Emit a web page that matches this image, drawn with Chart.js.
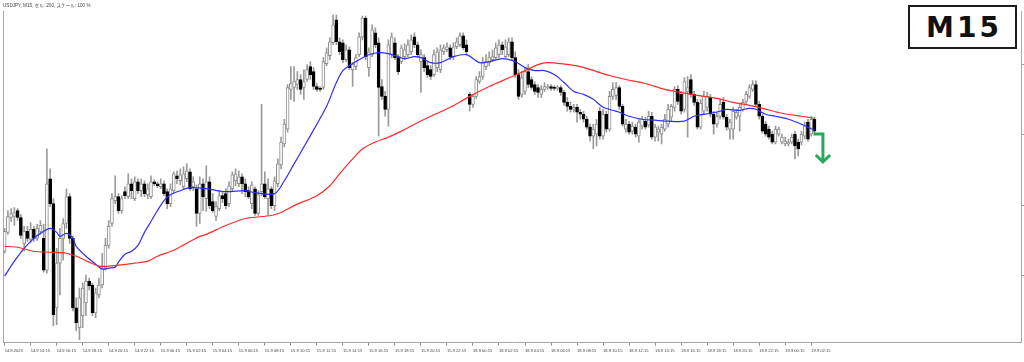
<!DOCTYPE html>
<html><head><meta charset="utf-8">
<script src="https://cdn.jsdelivr.net/npm/chart.js@4.4.0/dist/chart.umd.min.js"></script>
<style>
html,body{margin:0;padding:0;background:#fff;width:1024px;height:362px;overflow:hidden}
#wrap{position:relative;width:1024px;height:362px}
#m15{position:absolute;left:908px;top:5px;width:109px;height:44px;box-sizing:border-box;border:2px solid #1c1c1c;background:#fff;
font:bold 28px "DejaVu Sans",sans-serif;letter-spacing:3px;color:#111;display:flex;align-items:center;justify-content:center;padding-left:3px}
</style></head>
<body><div id="wrap"><canvas id="c" width="1024" height="362"></canvas><div id="m15">M15</div></div>
<script>
const titleText = 'USDJPY, M15, セル: 200, スケール: 100 %';

const openP = [147.47,147.66,147.81,147.82,147.88,147.81,147.55,147.67,147.59,147.69,
147.60,147.67,147.60,147.28,148.20,147.95,146.90,147.35,147.60,147.75,
148.02,147.60,146.90,146.70,146.82,146.95,147.17,147.13,146.85,147.03,
147.13,147.30,147.53,147.75,147.98,148.02,147.88,148.07,148.02,148.15,
148.00,148.17,148.08,148.15,148.04,148.02,148.17,148.15,148.12,148.15,
148.07,147.95,148.08,148.23,148.18,148.12,148.20,148.27,148.12,148.10,
147.85,148.15,148.00,148.17,147.97,147.82,147.90,148.03,148.05,147.95,
148.10,148.18,148.15,148.22,148.15,148.08,147.95,148.10,147.85,148.07,
148.15,148.00,148.10,147.93,148.15,148.34,148.55,148.70,149.10,149.12,
149.15,149.20,149.12,149.20,149.33,149.28,149.13,149.11,149.12,149.36,
149.44,149.57,149.80,149.58,149.57,149.40,149.50,149.30,149.33,149.45,
149.63,149.82,149.32,149.45,149.67,149.57,149.13,149.03,148.90,149.45,
149.57,149.42,149.38,149.43,149.45,149.48,149.63,149.55,149.38,149.42,
149.34,149.30,149.25,149.32,149.30,149.48,149.50,149.52,149.43,149.53,
149.55,149.64,149.55,149.05,148.95,149.03,149.18,149.23,149.33,149.37,
149.40,149.42,149.45,149.55,149.43,149.45,149.58,149.42,149.25,149.05,
149.08,149.28,149.20,149.15,149.12,149.05,149.10,149.12,149.13,149.12,
149.11,149.12,149.07,148.97,148.93,148.90,148.92,148.87,148.85,148.80,
148.72,148.63,148.65,148.88,148.63,148.85,148.70,149.03,149.04,149.12,
148.93,148.70,148.75,148.68,148.72,148.63,148.73,148.78,148.74,148.83,
148.62,148.67,148.65,148.70,148.75,148.82,148.92,149.10,149.05,148.90,
149.08,149.20,149.05,148.97,148.72,148.88,148.92,149.02,148.85,148.75,
148.83,148.97,148.82,148.70,148.70,148.82,148.83,148.90,148.98,149.03,
149.10,149.15,148.95,148.83,148.75,148.70,148.65,148.57,148.65,148.57,
148.55,148.55,148.57,148.65,148.57,148.57,148.63,148.77,148.65,148.80];

const highP = [147.70,147.88,147.90,147.91,147.90,147.84,147.72,147.72,147.76,147.72,
147.74,147.78,147.74,148.50,148.30,148.00,147.50,147.70,147.80,148.10,
148.05,147.62,147.00,147.10,147.15,147.23,147.20,147.15,147.10,147.20,
147.45,147.60,147.78,148.05,148.23,148.05,148.03,148.12,148.25,148.20,
148.22,148.20,148.20,148.18,148.15,148.23,148.19,148.17,148.20,148.18,
148.10,148.15,148.27,148.28,148.30,148.32,148.35,148.30,148.22,148.14,
148.22,148.20,148.33,148.22,148.05,147.97,148.08,148.07,148.10,148.17,
148.27,148.30,148.28,148.25,148.20,148.12,148.17,148.12,148.08,148.95,
148.27,148.20,148.12,148.22,148.40,148.62,148.80,149.15,149.33,149.33,
149.28,149.25,149.30,149.35,149.38,149.32,149.16,149.13,149.42,149.52,
149.62,149.85,149.85,149.62,149.60,149.55,149.53,149.37,149.45,149.67,
149.84,149.84,149.52,149.75,149.72,149.62,149.20,149.08,149.60,149.67,
149.62,149.45,149.55,149.56,149.60,149.65,149.67,149.58,149.50,149.45,
149.38,149.34,149.50,149.52,149.55,149.55,149.57,149.55,149.57,149.62,
149.67,149.67,149.60,149.07,149.05,149.23,149.28,149.42,149.45,149.48,
149.50,149.57,149.60,149.58,149.60,149.62,149.62,149.48,149.30,149.28,
149.32,149.35,149.23,149.18,149.15,149.14,149.17,149.15,149.15,149.14,
149.14,149.14,149.09,149.02,148.97,148.95,148.95,148.90,148.88,148.83,
148.75,148.75,148.80,148.92,148.90,148.88,149.08,149.17,149.17,149.14,
148.95,148.80,148.78,148.77,148.75,148.80,148.83,148.82,148.88,148.87,
148.75,148.73,148.75,148.85,148.95,148.95,149.13,149.14,149.08,149.22,
149.23,149.25,149.08,149.00,149.00,149.08,149.07,149.05,148.88,148.87,
149.00,149.02,148.85,148.80,148.92,148.90,148.96,149.00,149.08,149.15,
149.19,149.19,148.98,148.85,148.78,148.73,148.68,148.73,148.72,148.65,
148.62,148.60,148.65,148.68,148.60,148.68,148.77,148.80,148.83,148.82];

const lowP = [147.45,147.64,147.77,147.73,147.78,147.60,147.47,147.57,147.56,147.57,
147.58,147.64,147.26,147.25,147.92,146.72,146.73,147.03,147.38,147.70,
147.55,146.87,146.67,146.58,146.70,146.82,147.08,146.82,146.80,147.00,
147.10,147.28,147.50,147.72,147.95,147.85,147.85,148.00,148.00,148.00,
147.98,148.05,148.02,148.02,148.00,148.00,148.13,148.11,148.10,148.03,
147.90,147.92,148.05,148.15,148.14,148.10,148.17,148.08,148.08,147.72,
147.75,147.88,147.87,147.90,147.86,147.78,147.88,147.96,147.90,147.92,
148.08,148.13,148.12,148.05,148.02,148.00,147.90,147.83,147.83,148.03,
148.00,147.83,147.90,147.88,148.12,148.30,148.52,148.67,149.00,148.98,
149.10,149.05,149.00,149.18,149.20,149.10,149.08,149.08,149.10,149.34,
149.40,149.55,149.55,149.45,149.37,149.38,149.30,149.13,149.30,149.43,
149.60,149.40,149.23,149.43,149.52,148.63,149.00,148.83,148.73,149.42,
149.40,149.25,149.36,149.40,149.43,149.45,149.52,149.42,149.07,149.28,
149.22,149.20,149.23,149.28,149.27,149.45,149.48,149.40,149.40,149.51,
149.53,149.50,149.45,148.88,148.92,149.01,149.16,149.20,149.30,149.34,
149.38,149.40,149.42,149.45,149.42,149.43,149.40,149.22,149.00,149.02,
149.05,149.12,149.10,149.05,149.02,149.02,149.08,149.10,149.09,149.09,
149.09,149.04,148.94,148.88,148.87,148.87,148.77,148.80,148.77,148.70,
148.58,148.50,148.53,148.60,148.60,148.67,148.68,149.00,149.00,148.90,
148.73,148.67,148.65,148.65,148.62,148.57,148.70,148.70,148.72,148.60,
148.58,148.58,148.55,148.68,148.72,148.78,148.88,148.95,148.85,148.87,
148.62,149.02,148.94,148.70,148.70,148.85,148.88,148.82,148.65,148.72,
148.80,148.80,148.69,148.60,148.60,148.80,148.68,148.88,148.96,149.01,
149.08,148.93,148.80,148.66,148.63,148.60,148.55,148.55,148.63,148.55,
148.53,148.53,148.55,148.40,148.43,148.54,148.60,148.58,148.63,148.66];

const closeP = [147.67,147.82,147.85,147.86,147.81,147.63,147.67,147.60,147.69,147.60,
147.70,147.73,147.28,148.15,147.95,146.83,147.35,147.60,147.75,148.02,
147.60,146.90,146.75,147.00,147.10,147.17,147.12,146.85,147.05,147.13,
147.30,147.53,147.72,148.00,148.02,147.88,148.00,148.03,148.15,148.08,
148.17,148.08,148.15,148.05,148.10,148.17,148.15,148.13,148.15,148.05,
147.95,148.10,148.25,148.20,148.24,148.25,148.28,148.10,148.17,147.85,
148.15,148.02,148.17,147.93,147.88,147.92,148.03,148.00,147.93,148.13,
148.24,148.25,148.22,148.15,148.07,148.02,148.14,147.85,148.04,148.15,
148.02,148.10,147.93,148.18,148.35,148.57,148.75,149.12,149.16,149.18,
149.20,149.10,149.18,149.30,149.25,149.13,149.10,149.10,149.38,149.47,
149.58,149.75,149.58,149.48,149.40,149.50,149.32,149.35,149.42,149.63,
149.82,149.43,149.48,149.70,149.55,149.12,149.03,148.90,149.55,149.63,
149.42,149.28,149.52,149.50,149.55,149.60,149.55,149.45,149.45,149.32,
149.25,149.23,149.45,149.48,149.50,149.52,149.53,149.43,149.53,149.58,
149.64,149.52,149.48,148.95,149.03,149.20,149.23,149.37,149.38,149.42,
149.43,149.52,149.55,149.50,149.53,149.58,149.42,149.25,149.03,149.22,
149.28,149.15,149.12,149.08,149.07,149.10,149.13,149.13,149.11,149.11,
149.12,149.07,148.97,148.93,148.90,148.92,148.87,148.85,148.80,148.72,
148.63,148.70,148.75,148.63,148.85,148.70,149.03,149.10,149.12,148.93,
148.75,148.75,148.67,148.73,148.65,148.77,148.80,148.72,148.83,148.62,
148.72,148.70,148.72,148.80,148.90,148.93,149.10,148.98,148.88,149.18,
149.12,149.05,148.97,148.72,148.96,149.03,149.03,148.85,148.75,148.83,
148.95,148.82,148.72,148.77,148.88,148.87,148.92,148.97,149.05,149.12,
149.15,148.95,148.83,148.68,148.65,148.62,148.57,148.70,148.70,148.62,
148.58,148.57,148.62,148.53,148.50,148.65,148.73,148.60,148.80,148.68];

const blueIdx = [0,3,6,9,11,14,16,17,19,21,22,25,28,30,32,34,35,37,39,41,43,45,47,49,51,54,57,62,68,74,77,83,86,89,92,96,99,102,104,106,109,112,115,118,121,123,126,128,131,134,138,142,146,149,153,157,160,163,166,169,172,175,178,181,184,187,189,192,196,200,204,209,212,217,220,222,226,229,231,234,237,241,245,249];
const blueMA = [147.22,147.37,147.50,147.60,147.65,147.70,147.66,147.62,147.65,147.60,147.52,147.42,147.34,147.29,147.30,147.31,147.36,147.44,147.47,147.53,147.66,147.77,147.88,147.98,148.04,148.08,148.11,148.10,148.07,148.08,148.06,148.05,148.18,148.35,148.52,148.75,148.93,149.17,149.29,149.34,149.40,149.45,149.47,149.46,149.43,149.41,149.43,149.42,149.37,149.37,149.43,149.45,149.37,149.38,149.41,149.38,149.32,149.29,149.29,149.25,149.17,149.08,149.05,149.00,148.92,148.89,148.87,148.83,148.80,148.79,148.78,148.78,148.83,148.86,148.88,148.90,148.89,148.91,148.90,148.85,148.83,148.80,148.75,148.69];

const redIdx = [0,4,9,14,19,22,26,29,32,35,40,44,47,52,56,60,62,68,74,82,85,89,96,100,103,107,110,114,118,122,126,131,137,143,149,156,160,164,167,171,177,182,186,191,197,203,208,213,219,224,229,233,239,245,249];
const redMA = [147.52,147.51,147.47,147.46,147.45,147.42,147.36,147.32,147.32,147.33,147.35,147.37,147.42,147.48,147.55,147.62,147.64,147.73,147.80,147.83,147.86,147.93,148.03,148.13,148.25,148.40,148.50,148.57,148.62,148.68,148.75,148.83,148.92,149.03,149.13,149.23,149.29,149.35,149.37,149.36,149.33,149.28,149.24,149.20,149.16,149.10,149.07,149.04,149.01,148.97,148.94,148.91,148.86,148.83,148.81];

const tickIdx = [0,8,16,24,32,40,48,56,64,72,80,88,96,104,112,120,128,136,144,152,160,168,176,184,192,200,208,216,224,232,240,248];
const tickLabels = ['14.9.2023','14.9 14:15','14.9 16:15','14.9 18:15','14.9 20:15','14.9 22:15',
'15.9 00:15','15.9 02:15','15.9 04:15','15.9 06:15','15.9 08:15','15.9 10:15','15.9 12:15','15.9 14:15',
'15.9 16:15','15.9 18:15','15.9 20:15','15.9 22:15','18.9 00:15','18.9 02:15','18.9 04:15','18.9 06:15',
'18.9 08:15','18.9 10:15','18.9 12:15','18.9 14:15','18.9 16:15','18.9 18:15','18.9 20:15','18.9 22:15',
'19.9 00:15','19.9 02:15'];
const priceTicks = [149.35,148.65,147.93,147.23];

const arrowLineX = [248.7, 251.6, 251.6];
const arrowLineY = [148.65, 148.65, 148.385];
const arrowHeadX = [249.4, 251.6, 253.8];
const arrowHeadY = [148.44, 148.37, 148.44];

const FONT = '"Liberation Sans","Noto Sans CJK JP",sans-serif';
const bars = openP.map((_, i) => i);
const isBull = i => closeP[i] >= openP[i];

new Chart(document.getElementById('c'), {
  type: 'bar',
  data: {
    datasets: [
      { type:'bar', data: bars.map(i => ({x:i, y:[lowP[i], highP[i]]})), xAxisID:'x', yAxisID:'y',
        backgroundColor:'#9a9a9a', borderWidth:0, barThickness:1, grouped:false, order:6 },
      { type:'bar', data: bars.map(i => ({x:i, y:[openP[i], closeP[i]]})), xAxisID:'x', yAxisID:'y',
        backgroundColor: c => isBull(c.dataIndex) ? '#ffffff' : '#000000',
        borderColor: c => isBull(c.dataIndex) ? '#8e8e8e' : '#000000',
        borderWidth:1, borderSkipped:false, barThickness:3, minBarLength:1, grouped:false, order:5 },
      { type:'line', data: blueIdx.map((x,k) => ({x, y:blueMA[k]})), xAxisID:'x', yAxisID:'y',
        borderColor:'#2e2eff', borderWidth:1.2, pointRadius:0, tension:0.3, order:3 },
      { type:'line', data: redIdx.map((x,k) => ({x, y:redMA[k]})), xAxisID:'x', yAxisID:'y',
        borderColor:'#ff2a2a', borderWidth:1.2, pointRadius:0, tension:0.3, order:2 },
      { type:'line', data: arrowLineX.map((x,k) => ({x, y:arrowLineY[k]})), xAxisID:'x', yAxisID:'y',
        borderColor:'#27a85c', borderWidth:3, pointRadius:0, tension:0, borderJoinStyle:'miter', order:1 },
      { type:'line', data: arrowHeadX.map((x,k) => ({x, y:arrowHeadY[k]})), xAxisID:'x', yAxisID:'y',
        borderColor:'#27a85c', borderWidth:3, pointRadius:0, tension:0, borderJoinStyle:'miter', order:1 }
    ]
  },
  options: {
    responsive:false, devicePixelRatio:1, animation:false, events:[],
    layout:{ padding:{ left:3, right:0, top:0, bottom:5.5 } },
    plugins:{
      legend:{display:false}, tooltip:{enabled:false},
      title:{ display:true, text:titleText, align:'start', color:'#444',
        font:{ size:4.6, family:FONT, weight:'normal' }, padding:{top:3.2, bottom:2.3} }
    },
    scales:{
      x:{ type:'linear', min:-0.5, max:312.5, offset:false,
        grid:{ display:true, drawOnChartArea:false, drawTicks:true, tickLength:3, color:'#8a8a8a', offset:false },
        border:{ display:true, color:'#a8a8a8', width:1 },
        ticks:{ autoSkip:false, maxRotation:0, minRotation:0, align:'start', padding:3, color:'#444',
          font:{ size:4.1, family:FONT },
          callback: v => { const k = tickIdx.indexOf(v); return k >= 0 ? tickLabels[k] : ''; } },
        afterBuildTicks: s => { s.ticks = tickIdx.map(v => ({value:v})); } },
      y:{ type:'linear', position:'right', min:146.55, max:149.89,
        grid:{ display:true, drawOnChartArea:false, drawTicks:true, tickLength:3, color:'#9a9a9a' },
        border:{ display:true, color:'#a8a8a8', width:1 },
        ticks:{ display:false },
        afterBuildTicks: s => { s.ticks = priceTicks.map(v => ({value:v})); } },
      yL:{ type:'linear', position:'left', display:true,
        grid:{ display:false, drawTicks:false }, border:{ display:true, color:'#a8a8a8', width:1 },
        ticks:{ display:false } }
    }
  }
});
</script>
</body></html>
